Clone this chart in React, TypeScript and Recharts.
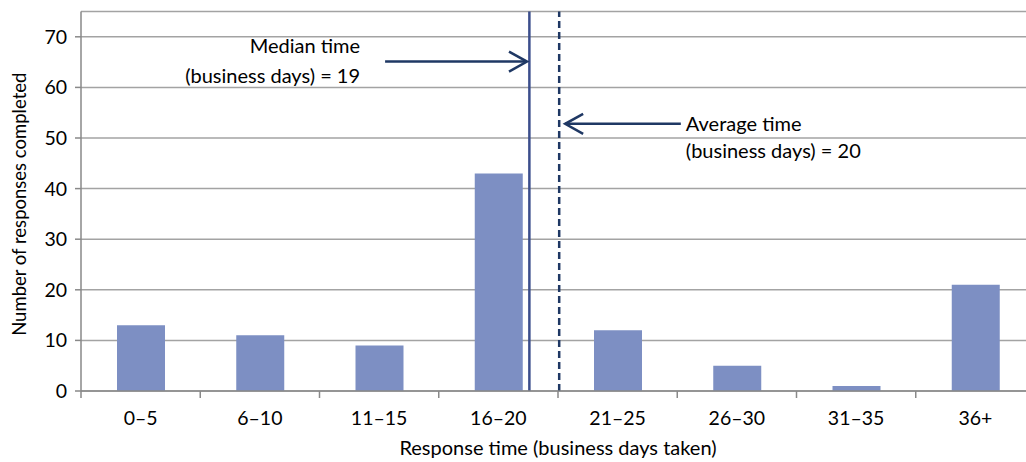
import { Bar, BarChart, CartesianGrid, ReferenceLine, XAxis, YAxis } from "recharts";

const categories = ["0–5", "6–10", "11–15", "16–20", "21–25", "26–30", "31–35", "36+"];
const responses = [13, 11, 9, 43, 12, 5, 1, 21];
const yTicks = [0, 10, 20, 30, 40, 50, 60, 70];
const xTicks = [0, 0.5, 1, 1.5, 2, 2.5, 3, 3.5, 4, 4.5, 5, 5.5, 6, 6.5, 7, 7.5, 8];

// reference positions on the category scale (band units)
const medianPos = 3.76;
const averagePos = 4.01;
const medianLabel = ["Median time", "(business days) = 19"];
const averageLabel = ["Average time", "(business days) = 20"];
const medianArrow = [{ x: 2.55, y: 65.1 }, { x: 3.74, y: 65.1 }];
const averageArrow = [{ x: 5.03, y: 52.8 }, { x: 4.06, y: 52.8 }];

const data = categories.map((label, i) => ({ pos: i + 0.5, label, responses: responses[i] }));

const font = "Lato, 'Noto Sans', sans-serif";
const axisGray = "#898989";
const navy = "#1f3864";

function XTick(props: any) {
  const { x, y, payload } = props;
  const v = payload.value;
  if (Number.isInteger(v)) {
    return <line x1={x} y1={y} x2={x} y2={y + 7} stroke={axisGray} strokeWidth={1.5} />;
  }
  return (
    <text x={x} y={y + 34} textAnchor="middle" fontFamily={font} fontSize={19.5} fill="#000">
      {categories[Math.floor(v)]}
    </text>
  );
}

function Arrow(props: any) {
  const { x1, y1, x2, y2, lines, anchor, dx, dys } = props;
  const dir = Math.sign(x2 - x1);
  const hx = 18 * dir;
  return (
    <g>
      <line x1={x1} y1={y1} x2={x2} y2={y2} stroke={navy} strokeWidth={2.5} />
      <polyline
        points={`${x2 - hx},${y2 - 10} ${x2},${y2} ${x2 - hx},${y2 + 10}`}
        fill="none"
        stroke={navy}
        strokeWidth={2.5}
      />
      {lines.map((t: string, i: number) => (
        <text
          key={t}
          x={x1 + dx}
          y={y1 + dys[i]}
          textAnchor={anchor}
          dominantBaseline="central"
          fontFamily={font}
          fontSize={20}
          fill="#000"
        >
          {t}
        </text>
      ))}
    </g>
  );
}

function YLabel(props: any) {
  const { viewBox } = props;
  const cx = 19;
  const cy = viewBox.y + viewBox.height / 2 + 3;
  return (
    <text
      x={cx}
      y={cy}
      transform={`rotate(-90, ${cx}, ${cy})`}
      textAnchor="middle"
      dominantBaseline="central"
      fontFamily={font}
      fontSize={18.5}
      fill="#000"
    >
      Number of responses completed
    </text>
  );
}

export default function App() {
  return (
    <div style={{ position: "fixed", left: 0, top: 0, width: 1026, height: 462, overflow: "hidden", background: "#fff" }}>
      <BarChart width={1040} height={462} data={data} margin={{ top: 11.5, right: 5, bottom: 0, left: 0 }}>
        <CartesianGrid vertical={false} stroke="#a3a3a3" strokeWidth={1.5} />
        <XAxis
          dataKey="pos"
          type="number"
          domain={[0, 8]}
          ticks={xTicks}
          interval={0}
          height={71}
          tickSize={0}
          tickMargin={0}
          tickLine={false}
          tick={<XTick />}
          axisLine={{ stroke: axisGray, strokeWidth: 1.5 }}
          label={{
            value: "Response time (business days taken)",
            position: "insideBottom",
            offset: 7,
            style: { fontFamily: font, fontSize: 20, fill: "#000" },
          }}
        />
        <YAxis
          domain={[0, 75]}
          ticks={yTicks}
          interval={0}
          width={81}
          tickSize={6}
          tickMargin={8}
          tickLine={{ stroke: axisGray, strokeWidth: 1.5 }}
          axisLine={{ stroke: axisGray, strokeWidth: 1.5 }}
          tick={{ fontFamily: font, fontSize: 19.5, fill: "#000" }}
          label={{ content: <YLabel /> }}
        />
        <Bar dataKey="responses" fill="#7d8fc3" barSize={48} isAnimationActive={false} />
        <ReferenceLine x={medianPos} stroke="#3b4e8c" strokeWidth={2.5} />
        <ReferenceLine x={averagePos} stroke={navy} strokeWidth={2.5} strokeDasharray="7 4" />
        <ReferenceLine
          segment={medianArrow}
          ifOverflow="visible"
          shape={(p: any) => <Arrow {...p} lines={medianLabel} anchor="end" dx={-25} dys={[-17, 13]} />}
        />
        <ReferenceLine
          segment={averageArrow}
          ifOverflow="visible"
          shape={(p: any) => <Arrow {...p} lines={averageLabel} anchor="start" dx={5} dys={[-1, 26]} />}
        />
      </BarChart>
    </div>
  );
}
